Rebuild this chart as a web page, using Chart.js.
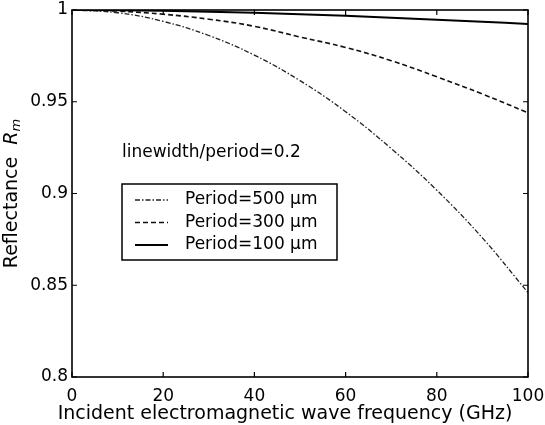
<!DOCTYPE html>
<html>
<head>
<meta charset="utf-8">
<script src="https://cdn.jsdelivr.net/npm/chart.js@4/dist/chart.umd.min.js"></script>
<style>
    html, body { margin: 0; padding: 0; background: #fff; }
    #wrap { width: 545px; height: 425px; }
</style>
</head>
<body>
<div id="wrap"><canvas id="chart" width="545" height="425"></canvas></div>
<script>
// Frequency (GHz) and reflectance
const freq = [0, 10, 20, 30, 40, 50, 60, 70, 80, 90, 100];
const r500 = [1.0, 0.9985, 0.9938, 0.9861, 0.9754, 0.9615, 0.9446, 0.9245, 0.9018, 0.8758, 0.8460];
const r300 = [1.0, 0.9994, 0.9977, 0.9950, 0.9911, 0.9853, 0.9796, 0.9724, 0.9636, 0.9542, 0.9440];
const r100 = [1.0, 0.9999, 0.9996, 0.9991, 0.9985, 0.9977, 0.9968, 0.9958, 0.9947, 0.9936, 0.9924];
const seriesLabels = ['Period=500 \u03bcm', 'Period=300 \u03bcm', 'Period=100 \u03bcm'];
const xTicks = [0, 20, 40, 60, 80, 100];
const yTicks = [0.8, 0.85, 0.9, 0.95, 1];
const xTitle = 'Incident electromagnetic wave frequency (GHz)';
const note = 'linewidth/period=0.2';

const FONT = 'DejaVu Sans';

const toPoints = (ys) => ys.map((y, i) => ({ x: freq[i], y: y }));

// box + inward ticks, like matlab axes
const boxPlugin = {
    id: 'box',
    afterDatasetsDraw(chart) {
        const { ctx, chartArea: a, scales } = chart;
        ctx.save();
        ctx.strokeStyle = '#000';
        ctx.lineWidth = 1.6;
        ctx.strokeRect(a.left, a.top, a.right - a.left, a.bottom - a.top);
        ctx.lineWidth = 1.2;
        const len = 5;
        ctx.beginPath();
        xTicks.forEach(v => {
            const px = scales.x.getPixelForValue(v);
            ctx.moveTo(px, a.bottom); ctx.lineTo(px, a.bottom - len);
            ctx.moveTo(px, a.top); ctx.lineTo(px, a.top + len);
        });
        yTicks.forEach(v => {
            const py = scales.y.getPixelForValue(v);
            ctx.moveTo(a.left, py); ctx.lineTo(a.left + len, py);
            ctx.moveTo(a.right, py); ctx.lineTo(a.right - len, py);
        });
        ctx.stroke();
        ctx.restore();
    }
};

// axis titles (R_m italic with subscript), annotation text, legend box
const extrasPlugin = {
    id: 'extras',
    afterDraw(chart) {
        const { ctx, chartArea: a } = chart;
        ctx.save();
        ctx.fillStyle = '#000';

        // x axis title, centred a bit left like the original
        ctx.font = '19px "' + FONT + '"';
        ctx.textAlign = 'center';
        ctx.textBaseline = 'alphabetic';
        ctx.fillText(xTitle, 285, 419);

        // y axis title
        const cy = (a.top + a.bottom) / 2;
        ctx.translate(12, cy);
        ctx.rotate(-Math.PI / 2);
        ctx.textBaseline = 'middle';
        const f1 = '19px "' + FONT + '"';
        const f2 = 'italic 19px "' + FONT + '"';
        const f3 = 'italic 13px "' + FONT + '"';
        ctx.font = f1;
        const w1 = ctx.measureText('Reflectance  ').width;
        ctx.font = f2;
        const w2 = ctx.measureText('R').width;
        ctx.font = f3;
        const w3 = ctx.measureText('m').width;
        let x0 = -(w1 + w2 + w3) / 2;
        ctx.font = f1;
        ctx.textAlign = 'left';
        ctx.fillText('Reflectance  ', x0, 0);
        ctx.font = f2;
        ctx.fillText('R', x0 + w1, 0);
        ctx.font = f3;
        ctx.fillText('m', x0 + w1 + w2, 5);
        ctx.setTransform(1, 0, 0, 1, 0, 0);

        // annotation
        ctx.font = '17px "' + FONT + '"';
        ctx.textAlign = 'left';
        ctx.textBaseline = 'middle';
        ctx.fillText(note, 122, 153);

        // legend
        ctx.strokeStyle = '#000';
        ctx.lineWidth = 1.5;
        ctx.strokeRect(122, 184, 215, 76);
        chart.data.datasets.forEach((ds, i) => {
            const y = 200 + i * 22.5;
            ctx.save();
            ctx.strokeStyle = ds.borderColor;
            ctx.lineWidth = ds.borderWidth;
            ctx.setLineDash(ds.borderDash || []);
            ctx.beginPath();
            ctx.moveTo(135, y);
            ctx.lineTo(168, y);
            ctx.stroke();
            ctx.restore();
            ctx.font = '17px "' + FONT + '"';
            ctx.fillText(ds.label, 185, y);
        });
        ctx.restore();
    }
};

const ctx = document.getElementById('chart').getContext('2d');
new Chart(ctx, {
    type: 'line',
    data: {
        datasets: [
            {
                label: seriesLabels[0],
                data: toPoints(r500),
                borderColor: '#222',
                borderWidth: 1.3,
                borderDash: [5, 2, 1.5, 2],
                pointRadius: 0,
                tension: 0.4,
                fill: false
            },
            {
                label: seriesLabels[1],
                data: toPoints(r300),
                borderColor: '#111',
                borderWidth: 1.6,
                borderDash: [5, 3],
                pointRadius: 0,
                tension: 0.4,
                fill: false
            },
            {
                label: seriesLabels[2],
                data: toPoints(r100),
                borderColor: '#000',
                borderWidth: 2,
                pointRadius: 0,
                tension: 0.4,
                fill: false
            }
        ]
    },
    options: {
        responsive: false,
        animation: false,
        layout: { padding: { top: 10, right: 17, left: 0, bottom: 0 } },
        plugins: {
            legend: { display: false },
            tooltip: { enabled: false }
        },
        scales: {
            x: {
                type: 'linear',
                min: 0,
                max: 100,
                grid: { display: false, drawTicks: false },
                border: { display: false },
                afterFit: (s) => {
                    s.height = 48;
                    s.paddingLeft = 0;
                    s.paddingRight = 0;
                },
                afterBuildTicks: (s) => { s.ticks = xTicks.map(v => ({ value: v })); },
                ticks: {
                    color: '#000',
                    font: { family: FONT, size: 17 },
                    padding: 9,
                    maxRotation: 0,
                    callback: (v) => String(v)
                }
            },
            y: {
                min: 0.8,
                max: 1,
                grid: { display: false, drawTicks: false },
                border: { display: false },
                afterFit: (s) => {
                    s.width = 72;
                    s.paddingTop = 0;
                    s.paddingBottom = 0;
                },
                afterBuildTicks: (s) => { s.ticks = yTicks.map(v => ({ value: v })); },
                ticks: {
                    color: '#000',
                    font: { family: FONT, size: 17 },
                    padding: 4,
                    callback: (v) => String(+v.toFixed(2))
                }
            }
        }
    },
    plugins: [boxPlugin, extrasPlugin]
});
</script>
</body>
</html>
